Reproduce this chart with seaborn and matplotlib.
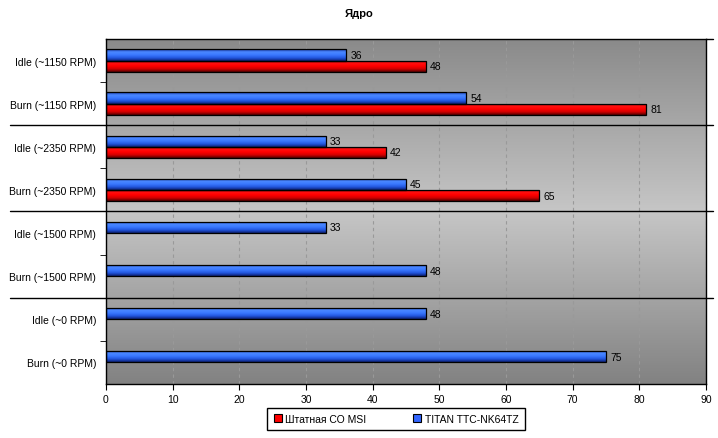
import numpy as np
import pandas as pd
import seaborn as sns
import matplotlib.pyplot as plt
from matplotlib.colors import LinearSegmentedColormap
from matplotlib.patches import Patch

categories = ['Idle (~1150 RPM)', 'Burn (~1150 RPM)', 'Idle (~2350 RPM)', 'Burn (~2350 RPM)',
              'Idle (~1500 RPM)', 'Burn (~1500 RPM)', 'Idle (~0 RPM)', 'Burn (~0 RPM)']
titan = [36, 54, 33, 45, 33, 48, 48, 75]
msi = [48, 81, 42, 65, None, None, None, None]
series = ['TITAN TTC-NK64TZ', 'Штатная СО MSI']
x_ticks = [0, 10, 20, 30, 40, 50, 60, 70, 80, 90]

rows = []
for cat, t, m in zip(categories, titan, msi):
    rows.append({'cat': cat, 'series': series[0], 'value': t})
    if m is not None:
        rows.append({'cat': cat, 'series': series[1], 'value': m})
df = pd.DataFrame(rows)

sns.set_style('white')
plt.rcParams['font.family'] = ['Liberation Sans', 'DejaVu Sans']
plt.rcParams['text.color'] = 'black'
plt.rcParams['xtick.color'] = 'black'
plt.rcParams['ytick.color'] = 'black'
plt.rcParams['axes.labelcolor'] = 'black'

fig = plt.figure(figsize=(7.18, 4.39), dpi=100)
ax = fig.add_axes([0.1476, 0.1230, 0.8357, 0.7859])

colors = {series[0]: '#3366ff', series[1]: '#ff0000'}
sns.barplot(data=df, y='cat', x='value', hue='series', hue_order=series, order=categories,
            orient='h', width=0.52, palette=colors, edgecolor='black', linewidth=0.9,
            legend=False, ax=ax, zorder=3)

# plot background gradient
bg = LinearSegmentedColormap.from_list('bg', ['#8a8a8a', '#a8a8a8', '#c6c6c6', '#a4a4a4', '#828282'])
ax.imshow(np.linspace(0, 1, 256).reshape(-1, 1), cmap=bg, extent=(0, 1, 0, 1),
          transform=ax.transAxes, aspect='auto', zorder=0, origin='upper')

# shaded bars
cmaps = {
    '#3366ff': LinearSegmentedColormap.from_list('b', ['#1d3fb0', '#4a88ff', '#3a78ff', '#2255dd', '#0c2070']),
    '#ff0000': LinearSegmentedColormap.from_list('r', ['#900000', '#ff1010', '#ff0000', '#d00000', '#500000']),
}
grad = np.linspace(0, 1, 64).reshape(-1, 1)
for cont, s in zip(ax.containers, series):
    cm = cmaps[colors[s]]
    for bar in cont:
        w = bar.get_width()
        if not np.isfinite(w):
            continue
        x0, y0 = bar.get_xy()
        h = bar.get_height()
        im = ax.imshow(grad, cmap=cm, extent=(x0, x0 + w, y0 + h, y0), aspect='auto',
                       origin='upper', zorder=2.5)
        im.set_clip_path(bar)
        bar.set_facecolor('none')
    ax.bar_label(cont, padding=3, fontsize=7.5, color='black')

ax.set_xlim(0, 90)
ax.set_ylim(7.5, -0.5)
ax.set_xticks(x_ticks)
ax.set_xlabel('')
ax.set_ylabel('')
ax.xaxis.grid(True, color='#999999', linestyle=(0, (3, 3)), linewidth=0.8, zorder=1)
ax.set_axisbelow(True)
ax.tick_params(axis='y', length=0, pad=7, labelsize=7.5)
ax.tick_params(axis='x', length=4, direction='out', bottom=True, labelsize=7.5, pad=3)
ax.set_yticks([0.5, 2.5, 4.5, 6.5], minor=True)
ax.tick_params(axis='y', which='minor', length=4, direction='out', left=True)
for sp in ax.spines.values():
    sp.set_color('black')
    sp.set_linewidth(1)

# group separators
for b in [1.5, 3.5, 5.5]:
    ax.plot([-0.16, 1.012], [b, b], color='black', linewidth=1,
            transform=ax.get_yaxis_transform(), clip_on=False, zorder=4)
ax.plot([1.0, 1.012], [-0.5, -0.5], color='black', linewidth=1,
        transform=ax.get_yaxis_transform(), clip_on=False)

fig.text(0.5, 0.968, 'Ядро', ha='center', va='center', fontsize=8, fontweight='bold')

handles = [Patch(facecolor='#ff0000', edgecolor='black', linewidth=0.8),
           Patch(facecolor='#3366ff', edgecolor='black', linewidth=0.8)]
leg = fig.legend(handles, [series[1], series[0]], loc='center', bbox_to_anchor=(0.5515, 0.0433),
                 ncol=2, fontsize=7.5, frameon=True, fancybox=False, edgecolor='black',
                 framealpha=1, handlelength=0.8, handleheight=0.8, handletextpad=0.3,
                 columnspacing=4.5, borderpad=0.6)
leg.get_frame().set_linewidth(1)

fig.savefig('out.png', dpi=100)
